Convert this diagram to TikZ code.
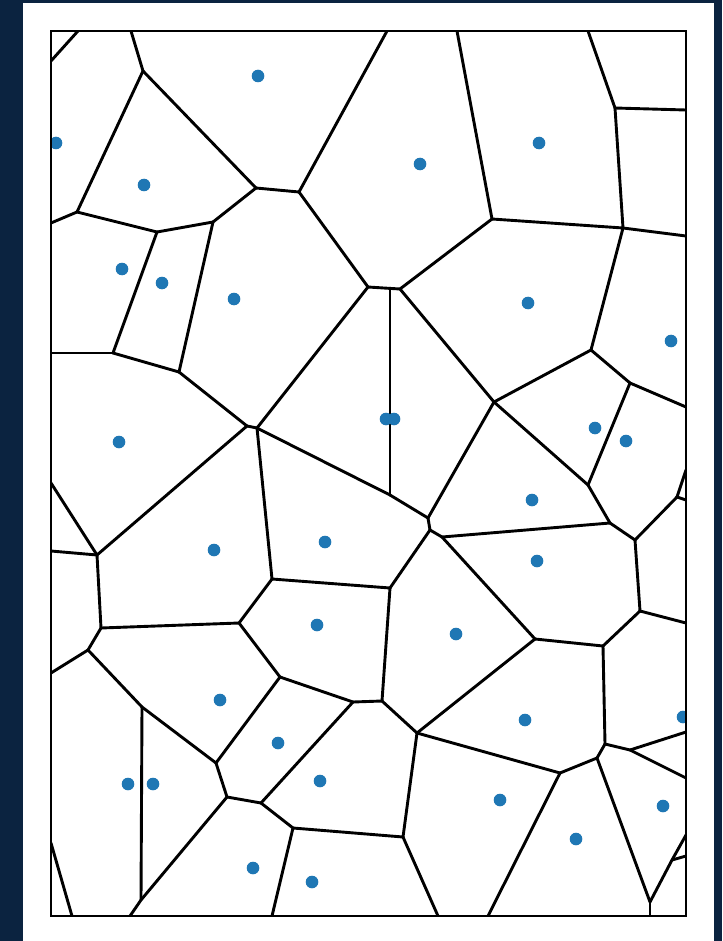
\documentclass[tikz,border=0pt]{standalone}
\definecolor{navy}{HTML}{0B2340}
\definecolor{dotblue}{HTML}{1F77B4}
\begin{document}
\begin{tikzpicture}[x=1pt,y=-1pt,
  edge/.style={line width=2.9pt, line cap=round, line join=round, black},
  seed/.style={fill=dotblue, draw=none},
  frame/.style={line width=2.2pt, black}]
\fill[navy] (0,0) rectangle (722,941);
\fill[white] (23,3) rectangle (714,941);
\useasboundingbox (0,0) rectangle (722,941);
% Voronoi vertices
\coordinate (A) at (143,71);  \coordinate (B) at (77,212);
\coordinate (C) at (256,188); \coordinate (D) at (299,192);
\coordinate (E) at (213,222); \coordinate (F) at (368,287);
\coordinate (G) at (492,219); \coordinate (H) at (615,108);
\coordinate (I) at (623,228); \coordinate (J) at (157,232);
\coordinate (K) at (113,353); \coordinate (L) at (179,372);
\coordinate (M) at (247,426); \coordinate (N) at (257,428);
\coordinate (O) at (400,289); \coordinate (Q) at (390,288.4);
\coordinate (R) at (494,402); \coordinate (S) at (591,350);
\coordinate (T) at (630,383); \coordinate (U) at (97,555);
\coordinate (V) at (390,495); \coordinate (W) at (428,518);
\coordinate (W2) at (430,530); \coordinate (W3) at (442,537);
\coordinate (X) at (588,485); \coordinate (Y) at (610,523);
\coordinate (Z) at (635,540); \coordinate (AA) at (677,497);
\coordinate (AB) at (101,628); \coordinate (AC) at (239,623);
\coordinate (AD) at (272,579); \coordinate (AE) at (390,588);
\coordinate (AF) at (88,650); \coordinate (AG) at (142,707);
\coordinate (AH) at (141,900); \coordinate (AI) at (216,763);
\coordinate (AJ) at (280,677); \coordinate (AK) at (353,702);
\coordinate (AL) at (382,701); \coordinate (AM) at (227,797);
\coordinate (AN) at (261,803); \coordinate (AO) at (293,828);
\coordinate (AP) at (403,837); \coordinate (AQ) at (535,639);
\coordinate (AR) at (603,646); \coordinate (AS) at (640,611);
\coordinate (AT) at (417,733); \coordinate (AU) at (605,744);
\coordinate (AV) at (630,750); \coordinate (AW) at (560,773);
\coordinate (AX) at (597,758); \coordinate (AY) at (650,902);
\coordinate (AZ) at (672,860);
% border end points
\coordinate (tl1) at (78,31); \coordinate (tl2) at (51,61);
\coordinate (t1) at (131,31); \coordinate (t2) at (387,31);
\coordinate (t3) at (457,31); \coordinate (t4) at (588,31);
\coordinate (r1) at (686,110); \coordinate (r2) at (686,236);
\coordinate (r3) at (686,407); \coordinate (r4) at (686,470);
\coordinate (r5) at (686,500); \coordinate (r6) at (686,623);
\coordinate (r7) at (686,732); \coordinate (r8) at (686,778);
\coordinate (r9) at (686,835); \coordinate (r10) at (686,856);
\coordinate (l1) at (51,223); \coordinate (l2) at (51,353);
\coordinate (l3) at (51,483); \coordinate (l4) at (51,551);
\coordinate (l5) at (51,673); \coordinate (l6) at (51,843);
\coordinate (bt1) at (72,916); \coordinate (bt2) at (130,916);
\coordinate (bt3) at (272,916); \coordinate (bt4) at (438,916);
\coordinate (bt5) at (488,916); \coordinate (bt6) at (650,916);
\begin{scope}
\clip (51,31) rectangle (686,916);
\foreach \p/\q in {tl2/tl1, t1/A, A/B, A/C, C/D, D/t2, C/E, D/F, B/l1, B/J,
  J/E, J/K, K/l2, K/L, E/L, L/M, M/N, F/N, F/Q, Q/O, Q/V, G/t3, G/O, G/I,
  H/t4, H/r1, H/I, I/r2, I/S, S/R, S/T, T/r3, O/R, R/W, R/X, X/T, X/Y,
  W/V, V/N, W/W2, W2/W3, W3/Y, Y/Z, Z/AA, AA/r4, AA/r5, Z/AS, AS/r6,
  AS/AR, AR/AQ, AQ/W3, AQ/AT, W2/AE, AE/AD, AE/AL, AD/N, AD/AC, AC/AB,
  AB/U, U/M, U/l4, U/l3, AB/AF, AF/l5, AF/AG, AG/AH, AG/AI, AC/AJ, AJ/AK,
  AJ/AI, AK/AL, AK/AN, AL/AT, AI/AM, AM/AN, AM/AH, AH/bt2, AN/AO, AO/AP,
  AO/bt3, AP/AT, AP/bt4, AT/AW, AW/bt5, AW/AX, AX/AU, AU/AR, AU/AV,
  AV/r7, AV/r8, AX/AY, AY/bt6, AY/AZ, AZ/r9, AZ/r10, l6/bt1}
  \draw[edge] (\p) -- (\q);
\foreach \x/\y in {258/76, 56/143, 144/185, 420/164, 539/143, 122/269,
  162/283, 234/299, 528/303, 671/341, 119/442, 386/419, 394/419, 595/428,
  626/441, 532/500, 214/550, 325/542, 537/561, 456/634, 317/625, 220/700,
  278/743, 525/720, 683/717, 128/784, 153/784, 320/781, 500/800, 576/839,
  663/806, 253/868, 312/882}
  \fill[seed] (\x,\y) circle (6.3);
\end{scope}
\draw[frame] (51,31) rectangle (686,916);
\end{tikzpicture}
\end{document}
